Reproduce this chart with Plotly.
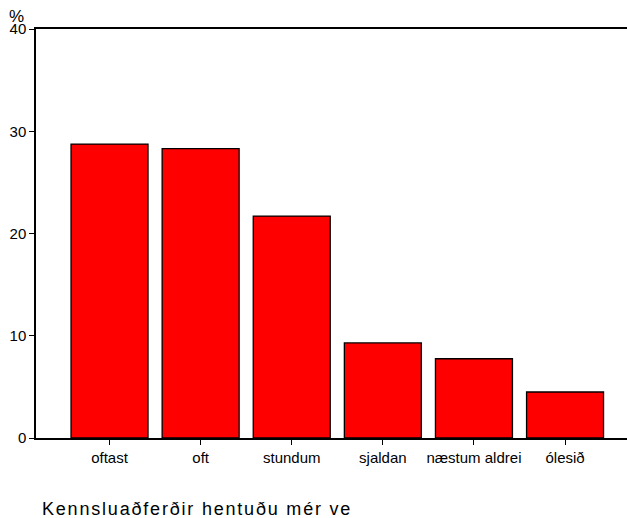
import plotly.graph_objects as go

categories = ["oftast", "oft", "stundum", "sjaldan", "næstum aldrei", "ólesið"]
percent = [28.75, 28.3, 21.7, 9.3, 7.75, 4.5]
y_ticks = [0, 10, 20, 30, 40]
title_text = "Kennsluaðferðir hentuðu mér ve"

FONT = "Liberation Sans, Arial, sans-serif"

fig = go.Figure(go.Bar(
    x=list(range(len(categories))),
    y=percent,
    width=0.845,
    marker=dict(color="#ff0000", line=dict(color="#000000", width=1.3)),
    hoverinfo="skip",
))

fig.update_layout(
    width=627, height=518,
    margin=dict(l=36, r=0, t=29, b=80),
    paper_bgcolor="white", plot_bgcolor="white",
    showlegend=False,
    font=dict(family=FONT, color="black"),
    xaxis=dict(
        range=[-0.807, 5.68],
        tickmode="array",
        tickvals=list(range(len(categories))),
        ticktext=categories,
        ticks="outside", ticklen=5, tickwidth=1, tickcolor="black",
        showline=True, linecolor="black", linewidth=1.5, mirror=True,
        showgrid=False, zeroline=False,
        tickfont=dict(size=15, family=FONT, color="black"),
    ),
    yaxis=dict(
        range=[0, 40],
        tickmode="array",
        tickvals=y_ticks,
        ticktext=[str(v) for v in y_ticks],
        ticks="outside", ticklen=5, tickwidth=1, tickcolor="black",
        showline=True, linecolor="black", linewidth=1.5, mirror=False,
        showgrid=False, zeroline=False,
        tickfont=dict(size=15, family=FONT, color="black"),
    ),
    annotations=[
        dict(text="%", xref="paper", yref="paper",
             x=(16 - 36) / 591, y=1 + (29 - 16) / 409,
             xanchor="center", yanchor="middle", showarrow=False,
             font=dict(size=17, family=FONT, color="black")),
        dict(text='<span style="letter-spacing:1.8px">' + title_text + '</span>',
             xref="paper", yref="paper",
             x=(40 - 36) / 591, y=-(509 - 438) / 409,
             xanchor="left", yanchor="middle", showarrow=False,
             font=dict(size=18, family=FONT, color="black")),
    ],
)

fig.write_html("out.html", config={"displayModeBar": False},
               post_script="document.body.style.margin='0px';")
